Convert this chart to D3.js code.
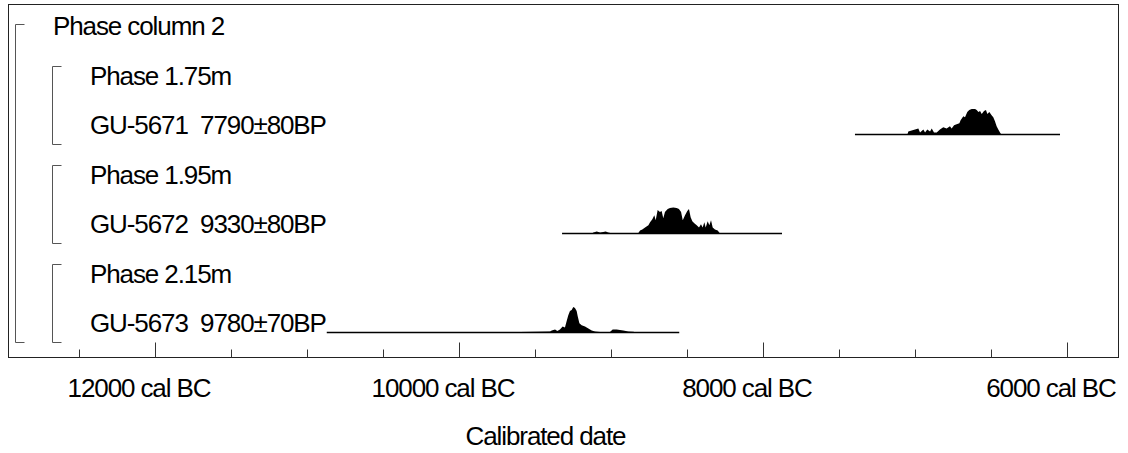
<!DOCTYPE html>
<html><head><meta charset="utf-8">
<script src="https://cdn.jsdelivr.net/npm/d3@7"></script>
<style>
html,body{margin:0;padding:0;background:#fff;}
text{font-family:"Liberation Sans",Arial,sans-serif;fill:#000;}
</style></head>
<body>
<svg id="c" width="1128" height="453"></svg>
<script>
// ---- data ----
const rowLabels = ["Phase column 2","Phase 1.75m","GU-5671  7790\u00b180BP","Phase 1.95m","GU-5672  9330\u00b180BP","Phase 2.15m","GU-5673  9780\u00b170BP"];
const rowIndent = [0,1,1,1,1,1,1];
const groups = [ {from:0,to:6,level:0}, {from:1,to:2,level:1}, {from:3,to:4,level:1}, {from:5,to:6,level:1} ];

// calibration range (cal BC) drawn as the baseline of each date
const range5671 = [7395, 6046];
const range5672 = [9322, 7875];
const range5673 = [10870, 8551];

// probability distributions: year (cal BC) and relative density
const years5671 = [7050,7044,7022,7000,6978,6967,6945,6934,6919,6901,6890,6875,6857,6836,6814,6792,6770,6759,6743,6726,6708,6700,6682,6671,6656,6643,6627,6605,6594,6583,6572,6561,6546,6533,6524,6511,6496,6485,6474,6463,6452,6437,6430];
const prob5671  = [0,3,4,5,6,2,5,2,5,3,6,2,2,5,7,6,8,6,9,10,11,14,18,17,22,24,25,25,24,22,23,20,23,24,20,22,19,17,13,8,5,1,0];

const years5672 = [9125,9116,9094,9072,9051,9035,9018,8996,8820,8809,8794,8776,8754,8743,8728,8715,8706,8693,8678,8667,8656,8645,8627,8612,8590,8568,8553,8539,8528,8513,8498,8487,8476,8465,8452,8436,8421,8408,8397,8386,8377,8364,8353,8342,8331,8316,8298,8283];
const prob5672  = [0,1,2,1,1.5,2,1,0.3,0.5,3,4,6,8,11,14,18,13,23,21,22,15,21,24,25,25.5,25,24,21,13,18,22,24,16,12,10,8,6,9,6,11,6,12,8,13,6,4,3,0];

const years5673 = [9610,9599,9401,9390,9368,9353,9336,9318,9303,9292,9281,9270,9259,9248,9237,9226,9219,9208,9193,9171,9149,9127,9105,9072,9007,8989,8963,8941,8919,8886,8853,8831];
const prob5673  = [0,0.6,1,2,3,1.5,3,6,5,11,17,21,22,25,24,21,16,9,7,6,4,2,1,0.5,0.5,3,3,2.5,2,1,0.7,0];

const dates = [
  {row:2, range:range5671, years:years5671, prob:prob5671},
  {row:4, range:range5672, years:years5672, prob:prob5672},
  {row:6, range:range5673, years:years5673, prob:prob5673}
];

const tickValues = d3.range(12500, 5999, -500);
const majorTicks = [12000,10000,8000,6000];
const axisTitle = "Calibrated date";

// ---- layout ----
const svg = d3.select("#c");
const frame = {l:8.5, t:4.5, r:1118.5, b:357.5};
const x = d3.scaleLinear().domain([12000, 6000]).range([155, 1067]);
const rowY = d3.scaleLinear().domain([0, 6]).range([35, 332]); // text/dist baseline
const h = d3.scaleLinear().domain([0, 25.5]).range([0, 26]);

// frame
svg.append("rect").attr("x",frame.l).attr("y",frame.t)
  .attr("width",frame.r-frame.l).attr("height",frame.b-frame.t)
  .attr("fill","none").attr("stroke","#222").attr("stroke-width",1);

// axis ticks
svg.append("g").selectAll("line").data(tickValues).join("line")
  .attr("x1",d=>Math.round(x(d))+0.5).attr("x2",d=>Math.round(x(d))+0.5)
  .attr("y1",frame.b).attr("y2",d=>majorTicks.includes(d)? frame.b-15 : frame.b-8)
  .attr("stroke","#333").attr("stroke-width",1);

// axis labels
svg.append("g").selectAll("text").data(majorTicks).join("text")
  .attr("x",d=>x(d)).attr("dx",-16).attr("y",397)
  .attr("text-anchor","middle").attr("font-size",26).attr("letter-spacing",-1.1)
  .text(d=>d+" cal BC");

svg.append("text").attr("x",(frame.l+frame.r)/2).attr("dx",-18).attr("y",445)
  .attr("text-anchor","middle").attr("font-size",26).attr("letter-spacing",-1.1)
  .text(axisTitle);

// row labels
svg.append("g").selectAll("text").data(rowLabels).join("text")
  .attr("x",(d,i)=> rowIndent[i] ? 90 : 53).attr("y",(d,i)=>rowY(i))
  .attr("font-size",26).attr("letter-spacing",-1.1)
  .style("white-space","pre").attr("xml:space","preserve")
  .text(d=>d);

// brackets
const bx = [15.5, 52.5];
const bg = svg.append("g").attr("fill","none").attr("stroke","#555").attr("stroke-width",1);
groups.forEach(g=>{
  const top = g.level===0 ? rowY(g.from)-11 : rowY(g.from)-18.5;
  const bot = rowY(g.to)+10;
  const xx = bx[g.level];
  bg.append("path").attr("d",`M${xx+9},${Math.round(top)+0.5}H${xx}V${Math.round(bot)+0.5}H${xx+9}`);
});

// distributions
dates.forEach(dt=>{
  const base = rowY(dt.row);
  const g = svg.append("g");
  g.append("line").attr("x1",x(dt.range[0])).attr("x2",x(dt.range[1]))
    .attr("y1",base+0.5).attr("y2",base+0.5).attr("stroke","#000").attr("stroke-width",1.3);
  const pts = dt.years.map((y,i)=>[y, dt.prob[i]]);
  const area = d3.area().x(d=>x(d[0])).y0(base+0.5).y1(d=>base+0.5-h(d[1]));
  g.append("path").datum(pts).attr("d",area).attr("fill","#000");
});
</script>
</body></html>
